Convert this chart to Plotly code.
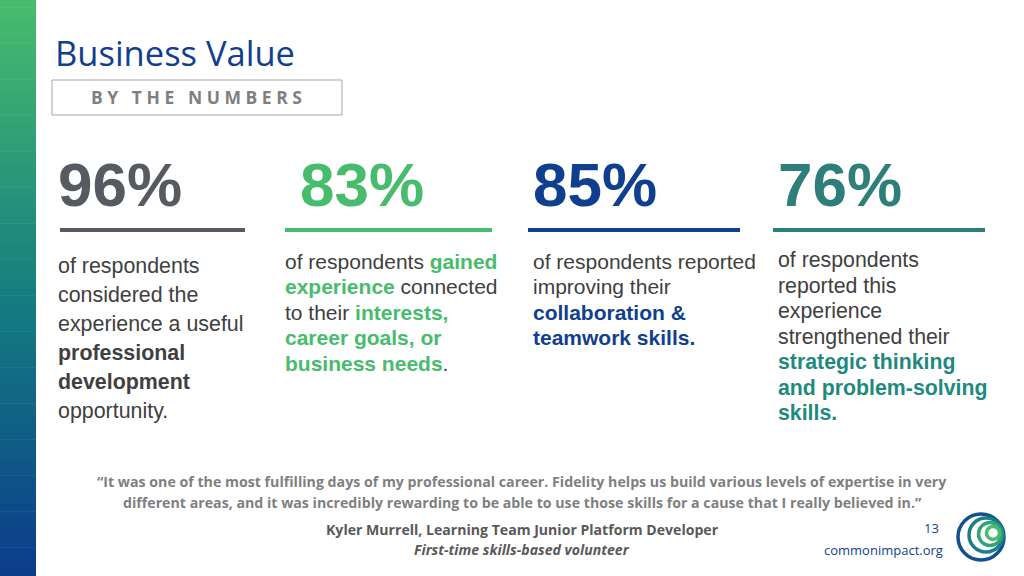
import plotly.graph_objects as go

percents = ["96%", "83%", "85%", "76%"]
num_colors = ["#565B61", "#48BC6D", "#0F3F8E", "#2E7F79"]
num_x = [58, 300, 533, 778]
col_x = [58, 285, 533, 778]
col_top = [266, 261, 261, 260]
col_step = [29, 25.5, 25.5, 25.5]
line_ranges = [(60, 245), (285, 492), (528, 740), (773, 985)]
G, N, T = "#48BC6D", "#0F3F8E", "#1E8A7E"
col_lines = [
    ["of respondents", "considered the", "experience a useful",
     "<b>professional</b>", "<b>development</b>", "opportunity."],
    ["of respondents <b><span style='color:%s'>gained</span></b>" % G,
     "<b><span style='color:%s'>experience</span></b> connected" % G,
     "to their <b><span style='color:%s'>interests,</span></b>" % G,
     "<b><span style='color:%s'>career goals, or</span></b>" % G,
     "<b><span style='color:%s'>business needs</span></b>." % G],
    ["of respondents reported", "improving their",
     "<b><span style='color:%s'>collaboration &amp;</span></b>" % N,
     "<b><span style='color:%s'>teamwork skills.</span></b>" % N],
    ["of respondents", "reported this", "experience",
     "strengthened their",
     "<b><span style='color:%s'>strategic thinking</span></b>" % T,
     "<b><span style='color:%s'>and problem-solving</span></b>" % T,
     "<b><span style='color:%s'>skills.</span></b>" % T],
]
col_size = [21.4, 21, 21, 21.3]
quote = ["“It was one of the most fulfilling days of my professional career. Fidelity helps us build various levels of expertise in very",
         "different areas, and it was incredibly rewarding to be able to use those skills for a cause that I really believed in.”"]

fig = go.Figure()
shapes, ann = [], []

def lerp(c1, c2, t):
    a = [int(c1[i:i+2], 16) for i in (1, 3, 5)]
    b = [int(c2[i:i+2], 16) for i in (1, 3, 5)]
    return "rgb(%d,%d,%d)" % tuple(round(a[k] + (b[k]-a[k])*t) for k in range(3))

n = 80
for i in range(n):
    t = i/(n-1)
    if t < 0.5:
        c = lerp("#48BC6E", "#15807F", t/0.5)
    else:
        c = lerp("#15807F", "#0B3D8C", (t-0.5)/0.5)
    shapes.append(dict(type="rect", x0=0, x1=36, y0=576*i/n, y1=576*(i+1)/n + 0.5,
                       fillcolor=c, line=dict(width=0), layer="below"))

shapes.append(dict(type="rect", x0=52, x1=342, y0=80, y1=115,
                   line=dict(color="#A6A6A6", width=1)))
ann.append(dict(x=53, y=52, text="Business Value", xanchor="left", yanchor="middle",
                font=dict(family="Open Sans", size=34.5, color="#0F3F8E")))
ann.append(dict(x=196, y=97, text="<b>B Y   T H E   N U M B E R S</b>", xanchor="center", yanchor="middle",
                font=dict(family="Open Sans", size=17.5, color="#7F7F7F"), showarrow=False))

for i in range(4):
    ann.append(dict(x=num_x[i] - 2, y=184, text="<b>%s</b>" % percents[i], xanchor="left",
                    yanchor="middle", font=dict(family="Arial", size=62, color=num_colors[i])))
    x0, x1 = line_ranges[i]
    shapes.append(dict(type="line", x0=x0, x1=x1, y0=230, y1=230,
                       line=dict(color=num_colors[i], width=4)))
    for j, t in enumerate(col_lines[i]):
        ann.append(dict(x=col_x[i] - 2, y=col_top[i] + j*col_step[i], text=t, xanchor="left",
                        yanchor="middle", font=dict(family="Arial", size=col_size[i], color="#404040")))

for j, q in enumerate(quote):
    ann.append(dict(x=522, y=481 + j*21, text="<b>%s</b>" % q, xanchor="center", yanchor="middle",
                    font=dict(family="Open Sans", size=14.2, color="#7F7F7F")))
ann.append(dict(x=522, y=529, text="<b>Kyler Murrell, Learning Team Junior Platform Developer</b>",
                xanchor="center", yanchor="middle", font=dict(family="Open Sans", size=14.1, color="#595959")))
ann.append(dict(x=522, y=549, text="<b><i>First-time skills-based volunteer</i></b>",
                xanchor="center", yanchor="middle", font=dict(family="Open Sans", size=14.1, color="#595959")))
ann.append(dict(x=941, y=528, text="13", xanchor="right", yanchor="middle",
                font=dict(family="Open Sans", size=13, color="#0F3F8E")))
ann.append(dict(x=945, y=550, text="commonimpact.org", xanchor="right", yanchor="middle",
                font=dict(family="Open Sans", size=13, color="#0F3F8E")))

circles = [(981, 537, 23, "#12508F"), (986, 535, 17, "#1A7F86"), (990, 534, 11.5, "#2FA47A"), (993, 533, 6.5, "#48BC6D")]
for cx, cy, r, c in circles:
    shapes.append(dict(type="circle", x0=cx-r, x1=cx+r, y0=cy-r, y1=cy+r,
                       line=dict(color=c, width=3.5)))

for a in ann:
    a.setdefault("showarrow", False)
    a["xref"] = "x"; a["yref"] = "y"

fig.update_layout(width=1024, height=576, margin=dict(l=0, r=0, t=0, b=0),
                  plot_bgcolor="white", paper_bgcolor="white",
                  shapes=shapes, annotations=ann, showlegend=False,
                  xaxis=dict(range=[0, 1024], visible=False, fixedrange=True),
                  yaxis=dict(range=[576, 0], visible=False, fixedrange=True))
fig.write_html("out.html", config={"displayModeBar": False},
               post_script="document.body.style.margin='0';document.body.style.padding='0';document.body.style.overflow='hidden';")
